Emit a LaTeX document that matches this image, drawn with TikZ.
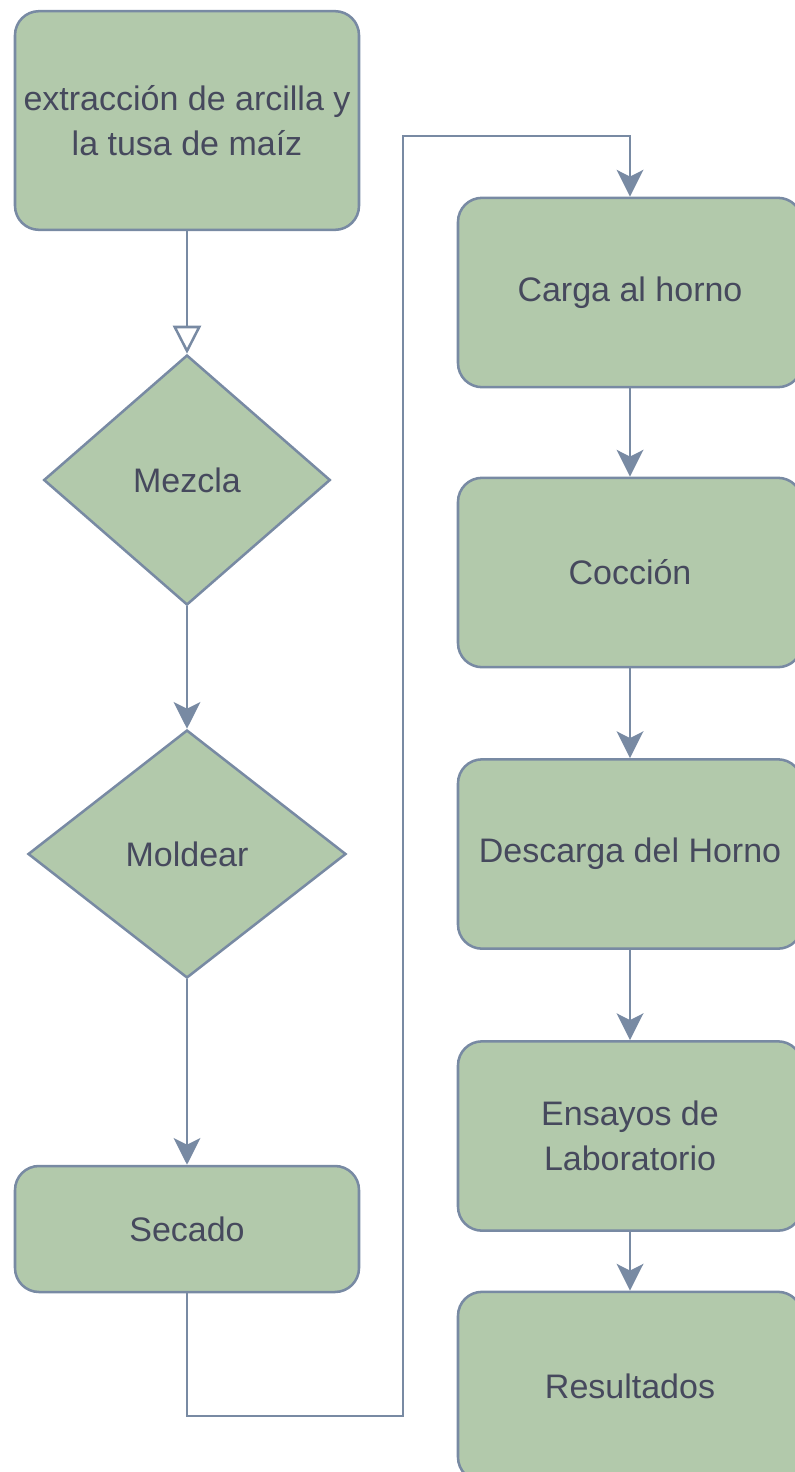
\documentclass[tikz,border=0pt]{standalone}
\usepackage{fontspec}
\setmainfont{Liberation Sans}
\usetikzlibrary{shapes.geometric,arrows.meta}

\definecolor{sagefill}{RGB}{178,201,171}
\definecolor{sageline}{RGB}{120,138,163}
\definecolor{sagetext}{RGB}{70,73,93}

\tikzset{every picture/.style={line width=1.9pt}}
\tikzset{
  procbox/.style={draw=sageline, fill=sagefill, rounded corners=18pt, minimum width=258pt,
    text=sagetext, align=center, inner sep=0pt, font=\fontsize{25.5}{34}\selectfont},
  decbox/.style={diamond, draw=sageline, fill=sagefill, text=sagetext, inner sep=0pt,
    font=\fontsize{25.5}{34}\selectfont},
  flow/.style={draw=sageline, -{Stealth[length=20pt,width=20pt,inset=5pt]}},
  openflow/.style={draw=sageline, -{Triangle[length=21pt,width=21pt,fill=white]}}
}

\begin{document}
\begin{tikzpicture}[x=0.75pt,y=0.75pt,yscale=-1,xscale=1]
\useasboundingbox (0,0) rectangle (795,1472);

%Rounded Rect
\node (extraccion) at (187,120.5) [procbox, minimum height=164pt] {extracción de arcilla y\\la tusa de maíz};
%Flowchart: Decision
\node (mezcla) at (187,480) [decbox, minimum width=215pt, minimum height=187.5pt] {Mezcla};
%Flowchart: Decision
\node (moldear) at (187,854) [decbox, minimum width=238.5pt, minimum height=186pt] {Moldear};
%Rounded Rect
\node (secado) at (187,1229) [procbox, minimum height=94.5pt] {Secado};

%Rounded Rect
\node (carga) at (630,292.5) [procbox, minimum height=142pt] {Carga al horno};
%Rounded Rect
\node (coccion) at (630,572.5) [procbox, minimum height=142pt] {Cocción};
%Rounded Rect
\node (descarga) at (630,854) [procbox, minimum height=142pt] {Descarga del Horno};
%Rounded Rect
\node (ensayos) at (630,1136) [procbox, minimum height=142pt] {Ensayos de\\Laboratorio};
%Rounded Rect
\node (resultados) at (630,1386.5) [procbox, minimum height=142pt] {Resultados};

%Straight Lines
\draw [openflow] (extraccion) -- (mezcla);
\draw [flow] (mezcla) -- (moldear);
\draw [flow] (moldear) -- (secado);

%Elbow connector
\coordinate (codoa) at (403,1416);
\coordinate (codob) at (403,136);
\draw [flow] (secado.south) |- (codoa) -- (codob) -| (carga.north);

%Straight Lines
\draw [flow] (carga) -- (coccion);
\draw [flow] (coccion) -- (descarga);
\draw [flow] (descarga) -- (ensayos);
\draw [flow] (ensayos) -- (resultados);

\end{tikzpicture}
\end{document}
